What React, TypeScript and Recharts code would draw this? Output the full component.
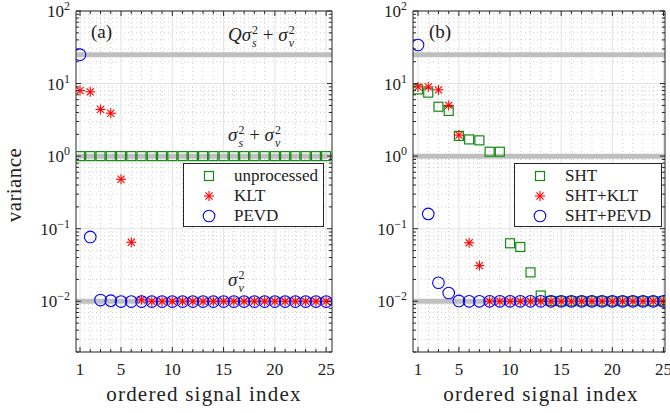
import React from "react";
import { ScatterChart, Scatter, XAxis, YAxis, ReferenceLine } from "recharts";

const indices = [1, 2, 3, 4, 5, 6, 7, 8, 9, 10, 11, 12, 13, 14, 15, 16, 17, 18, 19, 20, 21, 22, 23, 24, 25];
const xTicks = [1, 5, 10, 15, 20, 25];
const yDecades = [0.01, 0.1, 1, 10, 100];
const yExponents = ["\u22122", "\u22121", "0", "1", "2"];
const minorFactors = [2, 3, 4, 5, 6, 7, 8, 9];
// Qσs²+σv², σs²+σv², σv²
const levels = [25, 1, 0.01];

// panel (a)
const unprocessed = [1, 1, 1, 1, 1, 1, 1, 1, 1, 1, 1, 1, 1, 1, 1, 1, 1, 1, 1, 1, 1, 1, 1, 1, 1];
const klt = [8.0, 7.7, 4.4, 3.9, 0.48, 0.065, 0.0105, 0.01, 0.01, 0.01, 0.01, 0.01, 0.01, 0.01, 0.01, 0.01, 0.01, 0.01, 0.01, 0.01, 0.01, 0.01, 0.01, 0.01, 0.01];
const pevd = [25, 0.077, 0.0104, 0.0102, 0.0099, 0.0099, 0.0099, 0.0099, 0.0099, 0.0099, 0.0099, 0.0099, 0.0099, 0.0099, 0.0099, 0.0099, 0.0099, 0.0099, 0.0099, 0.0099, 0.0099, 0.0099, 0.0099, 0.0099, 0.0099];

// panel (b)
const sht = [8.3, 7.5, 4.8, 4.2, 1.9, 1.7, 1.65, 1.15, 1.15, 0.063, 0.056, 0.025, 0.012, 0.0101, 0.01, 0.01, 0.01, 0.01, 0.01, 0.01, 0.01, 0.01, 0.01, 0.01, 0.01];
const shtKlt = [9.0, 9.0, 8.2, 5.0, 1.95, 0.064, 0.031, 0.01, 0.01, 0.01, 0.01, 0.01, 0.01, 0.01, 0.01, 0.01, 0.01, 0.01, 0.01, 0.01, 0.01, 0.01, 0.01, 0.01, 0.01];
const shtPevd = [34, 0.16, 0.018, 0.013, 0.0101, 0.01, 0.01, 0.01, 0.01, 0.01, 0.01, 0.01, 0.01, 0.01, 0.01, 0.01, 0.01, 0.01, 0.01, 0.01, 0.01, 0.01, 0.01, 0.01, 0.01];

const FONT = "'Liberation Serif', 'Times New Roman', 'DejaVu Serif', serif";
const AXIS = "#262626";
const GREEN = "#128a12";
const RED = "#ff0000";
const BLUE = "#0000ff";

const Y_DOMAIN: [number, number] = [0.002, 100];
const yMinor = [0.001, 0.01, 0.1, 1, 10]
  .flatMap((d) => minorFactors.map((f) => f * d))
  .filter((v) => v >= Y_DOMAIN[0] && v <= Y_DOMAIN[1]);
const yTicks = [...yMinor, ...yDecades].sort((a, b) => a - b);
const xMinor = indices.filter((i) => !xTicks.includes(i));

const toPoints = (vals: number[]) => vals.map((v, i) => ({ x: indices[i], y: v }));

const Square = ({ cx, cy }: any) => (
  <rect x={cx - 4.5} y={cy - 4.5} width={9} height={9} fill="none" stroke={GREEN} strokeWidth={1.2} />
);
const Star = ({ cx, cy }: any) => {
  const r = 5;
  const d = r * 0.707;
  return (
    <g stroke={RED} strokeWidth={1.1}>
      <line x1={cx - r} x2={cx + r} y1={cy} y2={cy} />
      <line x1={cx} x2={cx} y1={cy - r} y2={cy + r} />
      <line x1={cx - d} x2={cx + d} y1={cy - d} y2={cy + d} />
      <line x1={cx - d} x2={cx + d} y1={cy + d} y2={cy - d} />
    </g>
  );
};
const Circle = ({ cx, cy }: any) => (
  <circle cx={cx} cy={cy} r={5.8} fill="none" stroke={BLUE} strokeWidth={1.1} />
);

const isMajorY = (v: number) => yDecades.includes(v);
const isMajorX = (v: number) => xTicks.includes(v);

const LeftTick = (props: any) => {
  const { x, y, payload } = props;
  const v = payload.value;
  const major = isMajorY(v);
  const k = yDecades.indexOf(v);
  return (
    <g>
      <line x1={x} x2={x + (major ? 5 : 3)} y1={y} y2={y} stroke={AXIS} />
      {major && (
        <text x={x - 6} y={y + 6} textAnchor="end" fontFamily={FONT} fontSize={17} fill="#222">
          10
          <tspan dy={-7} fontSize={12}>
            {yExponents[k]}
          </tspan>
        </text>
      )}
    </g>
  );
};
const RightTick = (props: any) => {
  const { x, y, payload } = props;
  const major = isMajorY(payload.value);
  return <line x1={x} x2={x - (major ? 5 : 3)} y1={y} y2={y} stroke={AXIS} />;
};
const BottomTick = (props: any) => {
  const { x, y, payload } = props;
  const major = isMajorX(payload.value);
  return (
    <g>
      <line x1={x} x2={x} y1={y} y2={y - (major ? 5 : 3)} stroke={AXIS} />
      {major && (
        <text x={x} y={y + 23} textAnchor="middle" fontFamily={FONT} fontSize={17} fill="#222">
          {payload.value}
        </text>
      )}
    </g>
  );
};
const TopTick = (props: any) => {
  const { x, y, payload } = props;
  const major = isMajorX(payload.value);
  return <line x1={x} x2={x} y1={y} y2={y + (major ? 5 : 3)} stroke={AXIS} />;
};

const Sigma = ({ sub }: { sub: string }) => (
  <span style={{ display: "inline-flex", alignItems: "center" }}>
    <i>σ</i>
    <span
      style={{
        display: "inline-flex",
        flexDirection: "column",
        fontSize: 12,
        lineHeight: "13px",
        marginLeft: 1,
        transform: "translateY(2px)",
      }}
    >
      <span>2</span>
      <i>{sub}</i>
    </span>
  </span>
);

type Series = { name: string; values: number[]; Shape: any };

interface PanelProps {
  left: number;
  width: number;
  margin: { top: number; right: number; bottom: number; left: number };
  xDomain: [number, number];
  series: Series[];
}

function Panel({ left, width, margin, xDomain, series }: PanelProps) {
  return (
    <div style={{ position: "absolute", left, top: 0 }}>
      <ScatterChart width={width} height={413} margin={margin}>
        <XAxis
          dataKey="x"
          type="number"
          domain={xDomain}
          ticks={indices}
          interval={0}
          height={30}
          tickSize={0}
          tickMargin={0}
          tick={BottomTick}
          stroke={AXIS}
          allowDataOverflow
        />
        <XAxis
          xAxisId="t"
          orientation="top"
          dataKey="x"
          type="number"
          domain={xDomain}
          ticks={indices}
          interval={0}
          height={1}
          tickSize={0}
          tickMargin={0}
          tick={TopTick}
          stroke={AXIS}
          allowDataOverflow
        />
        <YAxis
          dataKey="y"
          type="number"
          scale="log"
          domain={Y_DOMAIN}
          ticks={yTicks}
          interval={0}
          width={40}
          tickSize={0}
          tickMargin={0}
          tick={LeftTick}
          stroke={AXIS}
          allowDataOverflow
        />
        <YAxis
          yAxisId="r"
          orientation="right"
          dataKey="y"
          type="number"
          scale="log"
          domain={Y_DOMAIN}
          ticks={yTicks}
          interval={0}
          width={1}
          tickSize={0}
          tickMargin={0}
          tick={RightTick}
          stroke={AXIS}
          allowDataOverflow
        />
        {yMinor.map((v) => (
          <ReferenceLine key={"ym" + v} y={v} stroke="#cfcfcf" strokeDasharray="1 3" />
        ))}
        {xMinor.map((v) => (
          <ReferenceLine key={"xm" + v} x={v} stroke="#cfcfcf" strokeDasharray="1 3" />
        ))}
        {yDecades.map((v) => (
          <ReferenceLine key={"yM" + v} y={v} stroke="#e2e2e2" />
        ))}
        {xTicks.map((v) => (
          <ReferenceLine key={"xM" + v} x={v} stroke="#e2e2e2" />
        ))}
        {levels.map((v) => (
          <ReferenceLine key={"lv" + v} y={v} stroke="#bfbfbf" strokeWidth={5} />
        ))}
        {series.map((s) => (
          <Scatter
            key={s.name}
            name={s.name}
            data={toPoints(s.values)}
            shape={s.Shape}
            isAnimationActive={false}
          />
        ))}
      </ScatterChart>
    </div>
  );
}

function LegendBox({ left, top, width, series }: { left: number; top: number; width: number; series: Series[] }) {
  return (
    <div
      style={{
        position: "absolute",
        left,
        top,
        width,
        height: 64,
        boxSizing: "border-box",
        border: `1px solid ${AXIS}`,
        background: "#fff",
        fontFamily: FONT,
        fontSize: 17,
        color: "#222",
        paddingTop: 2,
      }}
    >
      {series.map((s) => (
        <div key={s.name} style={{ display: "flex", alignItems: "center", height: 20 }}>
          <svg width={50} height={20} style={{ flex: "none" }}>
            <s.Shape cx={25} cy={10} />
          </svg>
          <span>{s.name}</span>
        </div>
      ))}
    </div>
  );
}

const textStyle: React.CSSProperties = {
  position: "absolute",
  fontFamily: FONT,
  fontSize: 19,
  color: "#222",
  whiteSpace: "nowrap",
  lineHeight: "20px",
};

export default function App() {
  const seriesA: Series[] = [
    { name: "unprocessed", values: unprocessed, Shape: Square },
    { name: "KLT", values: klt, Shape: Star },
    { name: "PEVD", values: pevd, Shape: Circle },
  ];
  const seriesB: Series[] = [
    { name: "SHT", values: sht, Shape: Square },
    { name: "SHT+KLT", values: shtKlt, Shape: Star },
    { name: "SHT+PEVD", values: shtPevd, Shape: Circle },
  ];
  return (
    <div style={{ position: "absolute", left: 0, top: 0, width: 670, height: 413, overflow: "hidden", background: "#fff" }}>
      <Panel
        left={0}
        width={345}
        margin={{ top: 10, right: 12, bottom: 31, left: 36 }}
        xDomain={[0.61, 25.57]}
        series={seriesA}
      />
      <Panel
        left={337}
        width={345}
        margin={{ top: 10, right: 16, bottom: 31, left: 36 }}
        xDomain={[0.51, 25.15]}
        series={seriesB}
      />

      <div style={{ ...textStyle, left: 91, top: 22 }}>(a)</div>
      <div style={{ ...textStyle, left: 228, top: 22 }}>
        <i>Q</i>
        <Sigma sub="s" /> + <Sigma sub="v" />
      </div>
      <div style={{ ...textStyle, left: 228, top: 122 }}>
        <Sigma sub="s" /> + <Sigma sub="v" />
      </div>
      <div style={{ ...textStyle, left: 228, top: 267 }}>
        <Sigma sub="v" />
      </div>
      <div style={{ ...textStyle, left: 429, top: 22 }}>(b)</div>

      <LegendBox left={183} top={163} width={141} series={seriesA} />
      <LegendBox left={514} top={163} width={148} series={seriesB} />

      <div style={{ ...textStyle, fontSize: 21, letterSpacing: 1.2, left: 76, width: 256, textAlign: "center", top: 384 }}>
        ordered signal index
      </div>
      <div style={{ ...textStyle, fontSize: 21, letterSpacing: 1.2, left: 413, width: 256, textAlign: "center", top: 384 }}>
        ordered signal index
      </div>
      <div
        style={{
          ...textStyle,
          fontSize: 21,
          letterSpacing: 0.4,
          left: 14,
          top: 185,
          transform: "translate(-50%, -50%) rotate(-90deg)",
        }}
      >
        variance
      </div>
    </div>
  );
}
